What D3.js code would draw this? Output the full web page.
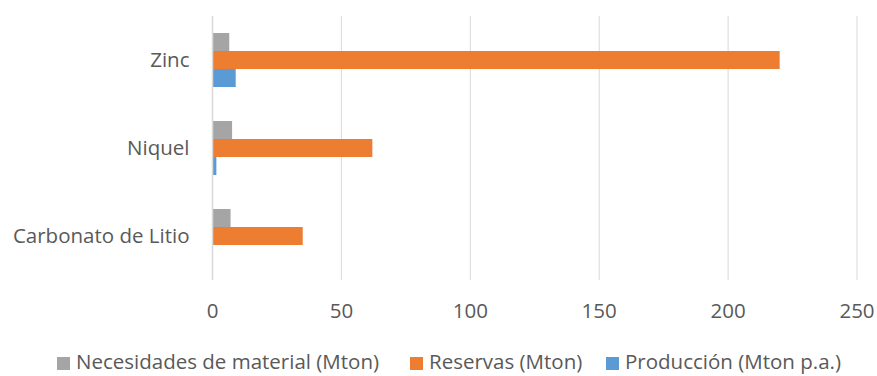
<!DOCTYPE html>
<meta charset="utf-8">
<script src="https://d3js.org/d3.v7.min.js"></script>
<style>
  body { margin: 0; background: #fff; }
  text { font-family: "Open Sans", sans-serif; fill: #595959; }
</style>
<div id="chart"></div>
<script>
// data
var categories = ["Zinc", "Niquel", "Carbonato de Litio"];
var seriesNames = ["Necesidades de material (Mton)", "Reservas (Mton)", "Producción (Mton p.a.)"];
var necesidades = [6.5, 7.6, 7];
var reservas = [220, 62, 35];
var produccion = [9, 1.5, 0];
var xTicks = [0, 50, 100, 150, 200, 250];
var colors = ["#a5a5a5", "#ed7d31", "#5b9bd5"];

var width = 877, height = 376;
var margin = {top: 16, left: 212.5};
var innerW = 857 - margin.left;
var innerH = 280 - margin.top;
var fontSize = "20.5px";

var svg = d3.select("#chart").append("svg")
    .attr("width", width)
    .attr("height", height);

var g = svg.append("g")
    .attr("transform", "translate(" + margin.left + "," + margin.top + ")");

var x = d3.scaleLinear().domain([0, 250]).range([0, innerW]);
var y = d3.scaleBand().domain(categories).range([0, innerH]).paddingInner(34 / 88).paddingOuter(17 / 88);
var ySub = d3.scaleBand().domain(d3.range(3)).range([0, y.bandwidth()]);

// gridlines
g.selectAll(".grid").data(xTicks.slice(1)).enter()
  .append("line")
    .attr("x1", function(d) { return x(d); })
    .attr("x2", function(d) { return x(d); })
    .attr("y1", 0).attr("y2", innerH)
    .attr("stroke", "#d9d9d9").attr("stroke-width", 1);

var rows = categories.map(function(c, i) {
  return {name: c, values: [necesidades[i], reservas[i], produccion[i]]};
});

var groups = g.selectAll(".cat").data(rows).enter()
  .append("g")
    .attr("transform", function(d) { return "translate(0," + y(d.name) + ")"; });

groups.selectAll("rect").data(function(d) { return d.values; }).enter()
  .append("rect")
    .attr("x", 0)
    .attr("y", function(d, j) { return ySub(j); })
    .attr("width", function(d) { return x(d); })
    .attr("height", ySub.bandwidth())
    .attr("fill", function(d, j) { return colors[j]; });

// vertical axis line at zero
g.append("line")
  .attr("x1", 0).attr("x2", 0).attr("y1", 0).attr("y2", innerH)
  .attr("stroke", "#d9d9d9").attr("stroke-width", 1.5);

// x tick labels
g.selectAll(".xt").data(xTicks).enter()
  .append("text")
    .attr("x", function(d) { return x(d); })
    .attr("y", 318 - margin.top)
    .attr("text-anchor", "middle")
    .attr("font-size", fontSize)
    .text(function(d) { return d; });

// category labels
g.selectAll(".yt").data(categories).enter()
  .append("text")
    .attr("x", -23)
    .attr("y", function(d) { return y(d) + y.bandwidth() / 2; })
    .attr("dy", "0.35em")
    .attr("text-anchor", "end")
    .attr("font-size", fontSize)
    .text(function(d) { return d; });

// legend
var legend = svg.append("g");
var lx = [57, 410, 606];
seriesNames.forEach(function(n, i) {
  legend.append("rect")
    .attr("x", lx[i]).attr("y", 357).attr("width", 13).attr("height", 13)
    .attr("fill", colors[i]);
  legend.append("text")
    .attr("x", lx[i] + 19).attr("y", 369)
    .attr("font-size", fontSize)
    .text(n);
});
</script>
